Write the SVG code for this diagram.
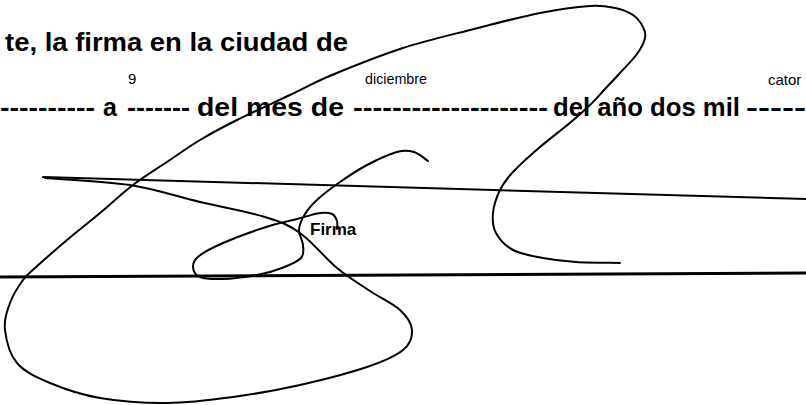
<svg xmlns="http://www.w3.org/2000/svg" width="806" height="405" viewBox="0 0 806 405">
<style>
.b{font-family:"Liberation Sans",Arial,sans-serif;font-weight:bold;font-size:25px;fill:#000}
.s{font-family:"Liberation Sans",Arial,sans-serif;font-size:15px;fill:#000}
.f{font-family:"Liberation Sans",Arial,sans-serif;font-weight:bold;font-size:17px;fill:#000}
.ink{fill:none;stroke:#000;stroke-width:2;stroke-linecap:round;stroke-linejoin:round}
</style>
<rect width="806" height="405" fill="#fff"/>
<g id="text">
<text class="b" x="5" y="51" textLength="343" lengthAdjust="spacingAndGlyphs">te, la firma en la ciudad de</text>
<text class="s" x="128" y="84">9</text>
<text class="s" x="365" y="84" textLength="62" lengthAdjust="spacingAndGlyphs">diciembre</text>
<text class="s" x="768" y="85">cator</text>
<text class="b" x="0" y="116" textLength="95" lengthAdjust="spacingAndGlyphs">----------</text>
<text class="b" x="103" y="116">a</text>
<text class="b" x="127" y="116" textLength="63" lengthAdjust="spacingAndGlyphs">-------</text>
<text class="b" x="197" y="116" textLength="147" lengthAdjust="spacingAndGlyphs">del mes de</text>
<text class="b" x="353" y="116" textLength="195" lengthAdjust="spacingAndGlyphs">--------------------</text>
<text class="b" x="553" y="116" textLength="187" lengthAdjust="spacingAndGlyphs">del año dos mil</text>
<text class="b" x="746" y="116" textLength="60" lengthAdjust="spacingAndGlyphs">-----</text>
<text class="f" x="310" y="235">Firma</text>
</g>
<g id="lines">
<path d="M43,177 L806,199" class="ink"/>
<path d="M0,277 L806,273" fill="none" stroke="#000" stroke-width="3"/>
</g>
<g id="signature">
<path class="ink" d="M45,178 C59.2,179.2 104.2,181 130,185 C155.8,189 177.5,196.7 200,202 C222.5,207.3 248.3,211.8 265,217 C281.7,222.2 288,224.5 300,233 C312,241.5 325.3,258.3 337,268 C348.7,277.7 359.5,284 370,291 C380.5,298 393,303.5 400,310 C407,316.5 411.5,323.3 412,330 C412.5,336.7 410.5,343.8 403,350 C395.5,356.2 384.2,361.2 367,367 C349.8,372.8 322.3,380 300,385 C277.7,390 255.2,394 233,397 C210.8,400 189.2,402.8 167,403 C144.8,403.2 119.5,401.3 100,398 C80.5,394.7 63.8,388.8 50,383 C36.2,377.2 24.5,371.8 17,363 C9.5,354.2 6.2,340 5,330 C3.8,320 7,311.3 10,303 C13,294.7 18.8,285.8 23,280 C27.2,274.2 27.7,274.7 35,268 C42.3,261.3 56.2,249.2 67,240 C77.8,230.8 89,222.2 100,213 C111,203.8 121.8,193.5 133,185 C144.2,176.5 155.8,169.5 167,162 C178.2,154.5 188.3,147 200,140 C211.7,133 222,127.5 237,120 C252,112.5 274.2,102.5 290,95 C305.8,87.5 313.2,82.8 332,75 C350.8,67.2 380,55.5 403,48 C426,40.5 447.2,35.8 470,30 C492.8,24.2 520,17 540,13 C560,9 577.5,6.8 590,6 C602.5,5.2 607.8,6.5 615,8 C622.2,9.5 628.3,11.8 633,15 C637.7,18.2 641,23.2 643,27 C645,30.8 646,33.5 645,38 C644,42.5 641.2,48.2 637,54 C632.8,59.8 625.3,67.2 620,73 C614.7,78.8 610,83.7 605,89 C600,94.3 595.7,99.5 590,105 C584.3,110.5 579.3,115 571,122 C562.7,129 549.7,138.7 540,147 C530.3,155.3 519.7,164.8 513,172 C506.3,179.2 503.3,183.2 500,190 C496.7,196.8 493.7,205.8 493,213 C492.3,220.2 492.7,226.8 496,233 C499.3,239.2 505.2,245.8 513,250 C520.8,254.2 532.5,256 543,258 C553.5,260 563.2,261.2 576,262 C588.8,262.8 612.7,262.8 620,263"/>
<path class="ink" d="M428,161 C425.7,159.5 419.2,153.5 414,152 C408.8,150.5 404.8,149.8 397,152 C389.2,154.2 376.5,160 367,165 C357.5,170 348.2,176.3 340,182 C331.8,187.7 323.8,193.7 318,199 C312.2,204.3 308.2,208.8 305,214 C301.8,219.2 299.3,224.8 299,230 C298.7,235.2 302.7,240.3 303,245 C303.3,249.7 304.5,254.2 301,258 C297.5,261.8 289.3,265.2 282,268 C274.7,270.8 267,273.2 257,275 C247,276.8 231.5,278.7 222,279 C212.5,279.3 204.8,279 200,277 C195.2,275 193.2,270.5 193,267 C192.8,263.5 194,260 199,256 C204,252 212.3,247.7 223,243 C233.7,238.3 250.7,232 263,228 C275.3,224 287.5,221.5 297,219 C306.5,216.5 314.2,213.8 320,213 C325.8,212.2 329.2,212.7 332,214 C334.8,215.3 336.2,218.5 337,221 C337.8,223.5 337,227.7 337,229"/>
</g>
</svg>
